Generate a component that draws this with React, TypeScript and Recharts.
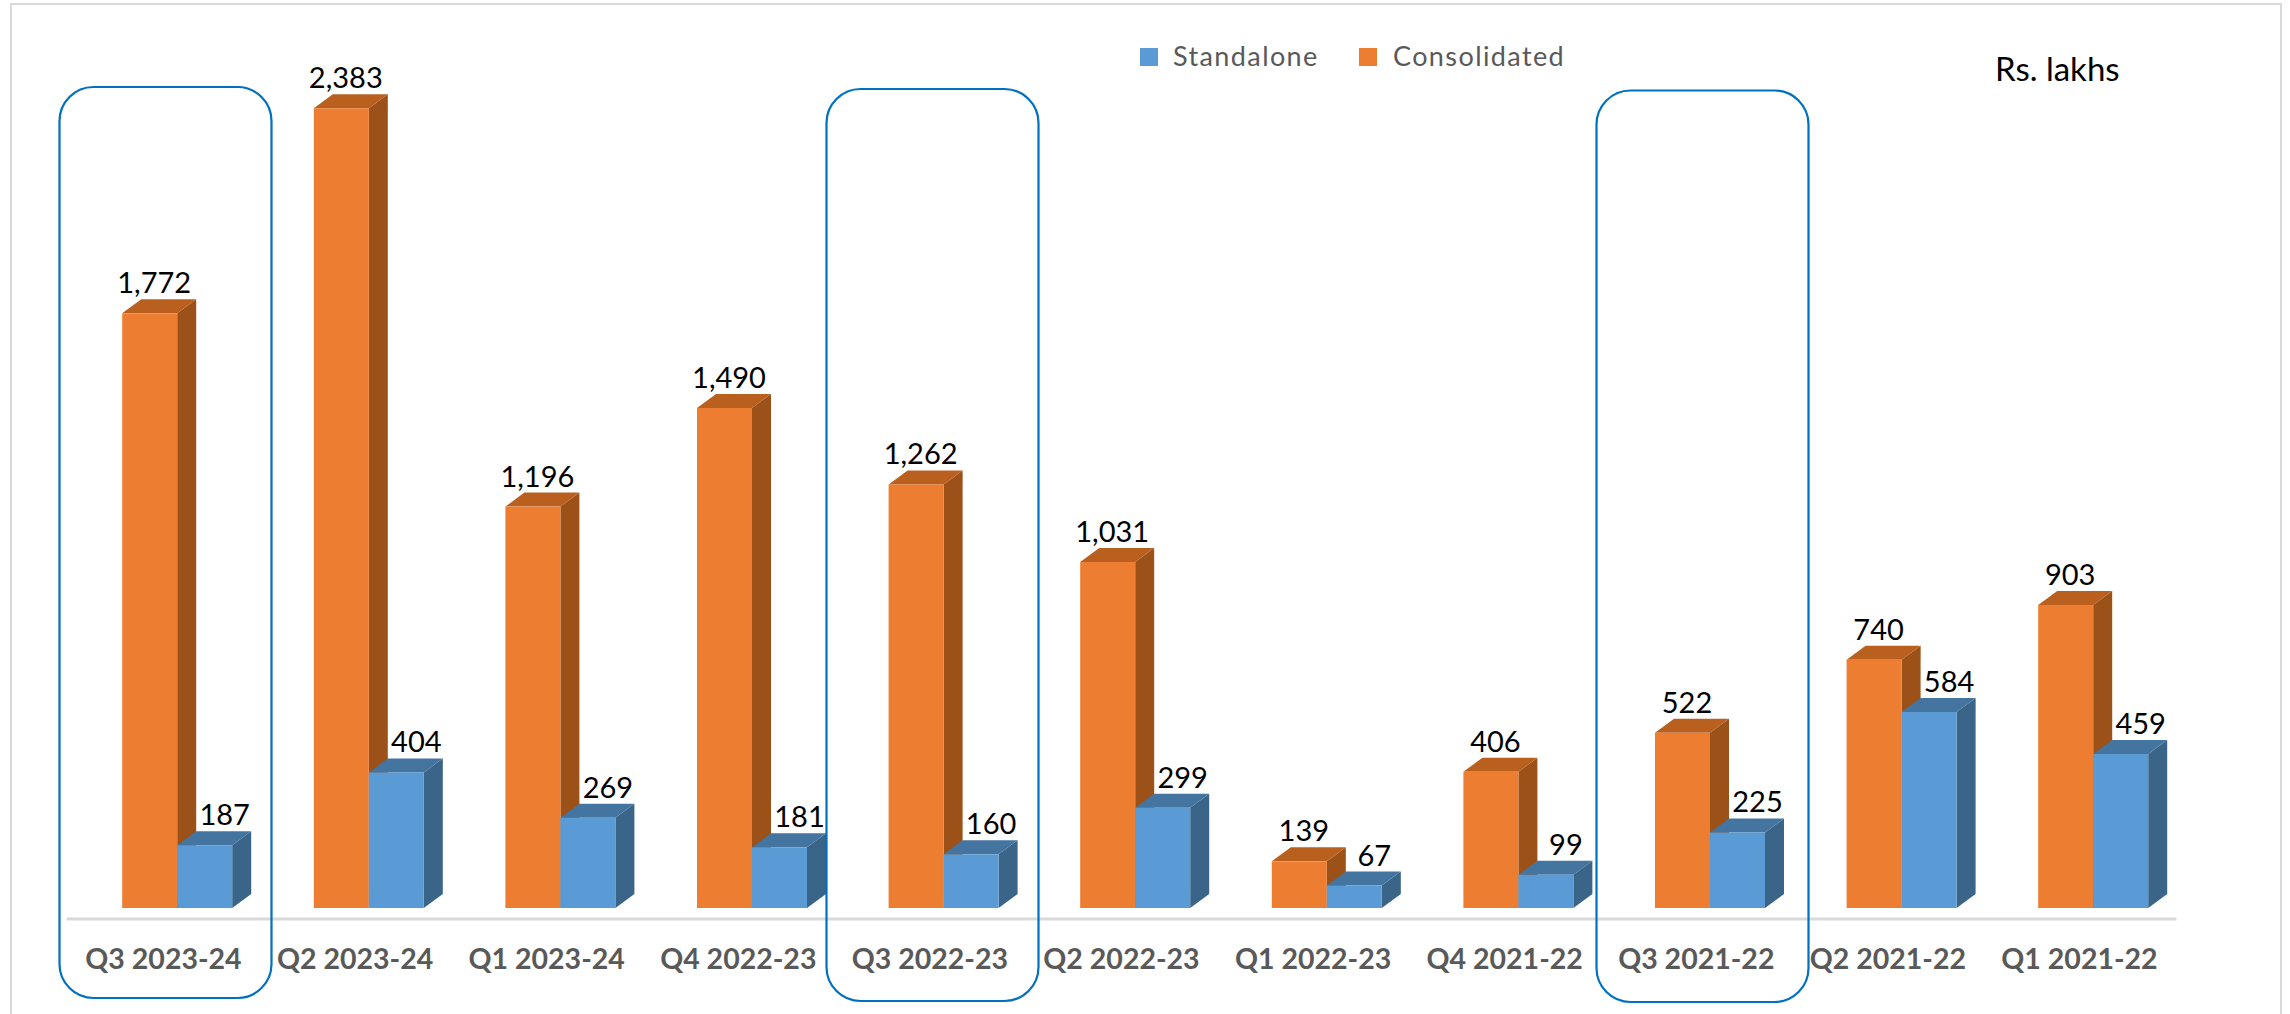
import React from 'react';
import { BarChart, Bar, XAxis, YAxis, LabelList } from 'recharts';

const quarters = [
  'Q3 2023-24', 'Q2 2023-24', 'Q1 2023-24', 'Q4 2022-23', 'Q3 2022-23', 'Q2 2022-23',
  'Q1 2022-23', 'Q4 2021-22', 'Q3 2021-22', 'Q2 2021-22', 'Q1 2021-22',
];
const consolidated = [1772, 2383, 1196, 1490, 1262, 1031, 139, 406, 522, 740, 903];
const standalone = [187, 404, 269, 181, 160, 299, 67, 99, 225, 584, 459];

const data = quarters.map((quarter, i) => ({
  quarter,
  consolidated: consolidated[i],
  standalone: standalone[i],
}));

const FONT = 'Lato, sans-serif';
const ORANGE = { front: '#ED7D31', top: '#B9601F', side: '#9C5119' };
const BLUE = { front: '#5B9BD5', top: '#4474A0', side: '#3A6488' };

// 3D look: bars sit right of the tick centre, like the Excel floor offset
const SHIFT = 13.5;
const DEPTH_X = 19;
const DEPTH_Y = 14;

// Blue callout boxes around the Q3 columns
const highlights = [
  { x: 59.5, y: 87, w: 212, h: 911 },
  { x: 826.5, y: 89, w: 212, h: 912 },
  { x: 1596.5, y: 90.5, w: 212, h: 911.5 },
];

const Bar3D = ({ x, y, width, height, colors }: any) => {
  const left = x + SHIFT;
  const right = left + width;
  const base = y + height;
  return (
    <g>
      <polygon
        points={`${right},${y} ${right + DEPTH_X},${y - DEPTH_Y} ${right + DEPTH_X},${base - DEPTH_Y} ${right},${base}`}
        fill={colors.side}
      />
      <polygon
        points={`${left},${y} ${left + DEPTH_X},${y - DEPTH_Y} ${right + DEPTH_X},${y - DEPTH_Y} ${right},${y}`}
        fill={colors.top}
      />
      <rect x={left} y={y} width={width} height={height} fill={colors.front} />
    </g>
  );
};

const valueLabel = (offset: number) => ({ x, y, width, value }: any) => (
  <text
    x={x + SHIFT + width / 2 + offset}
    y={y - 20}
    textAnchor="middle"
    fontFamily={FONT}
    fontSize={29}
    fill="#000"
  >
    {Number(value).toLocaleString('en-US')}
  </text>
);

const LegendItem = ({ left, textLeft, color, label }: any) => (
  <>
    <div style={{ position: 'absolute', left, top: 48, width: 18, height: 18, background: color }} />
    <div
      style={{
        position: 'absolute',
        left: textLeft,
        top: 38,
        fontFamily: FONT,
        fontSize: 27,
        lineHeight: '36px',
        letterSpacing: 1.4,
        color: '#595959',
      }}
    >
      {label}
    </div>
  </>
);

export default function App() {
  return (
    <div style={{ position: 'absolute', left: 0, top: 0, width: 2290, height: 1014, background: '#fff', overflow: 'hidden' }}>
      {/* Outer frame, cut off at the bottom */}
      <div
        style={{
          position: 'absolute',
          left: 10,
          top: 3,
          width: 2268,
          height: 1020,
          border: '2px solid #d9d9d9',
        }}
      />
      <BarChart
        width={2290}
        height={1014}
        data={data}
        barSize={55}
        barGap={0}
        margin={{ top: 69, right: 113.5, bottom: 0, left: 66.5 }}
        style={{ position: 'absolute', left: 0, top: 0 }}
      >
        <XAxis
          dataKey="quarter"
          height={95}
          interval={0}
          padding={{ left: 1.2, right: 1.2 }}
          tickLine={false}
          axisLine={{ stroke: '#d9d9d9', strokeWidth: 3 }}
          tickMargin={24}
          tick={{ fontFamily: FONT, fontSize: 28.5, fontWeight: 700, fill: '#595959' }}
        />
        <YAxis hide domain={[0, 2500]} padding={{ bottom: 11 }} />
        <Bar
          dataKey="consolidated"
          isAnimationActive={false}
          shape={(props: any) => <Bar3D {...props} colors={ORANGE} />}
        >
          <LabelList dataKey="consolidated" content={valueLabel(4.5)} />
        </Bar>
        <Bar
          dataKey="standalone"
          isAnimationActive={false}
          shape={(props: any) => <Bar3D {...props} colors={BLUE} />}
        >
          <LabelList dataKey="standalone" content={valueLabel(20)} />
        </Bar>
      </BarChart>

      <svg width={2290} height={1014} style={{ position: 'absolute', left: 0, top: 0, pointerEvents: 'none' }}>
        {highlights.map((r) => (
          <rect key={r.x} x={r.x} y={r.y} width={r.w} height={r.h} rx={34} ry={34} fill="none" stroke="#0070C0" strokeWidth={2.2} />
        ))}
      </svg>

      <LegendItem left={1140} textLeft={1173} color={BLUE.front} label="Standalone" />
      <LegendItem left={1359} textLeft={1393} color={ORANGE.front} label="Consolidated" />

      <div
        style={{
          position: 'absolute',
          left: 1995,
          top: 48,
          fontFamily: FONT,
          fontSize: 33,
          lineHeight: '40px',
          color: '#000',
        }}
      >
        Rs. lakhs
      </div>
    </div>
  );
}
